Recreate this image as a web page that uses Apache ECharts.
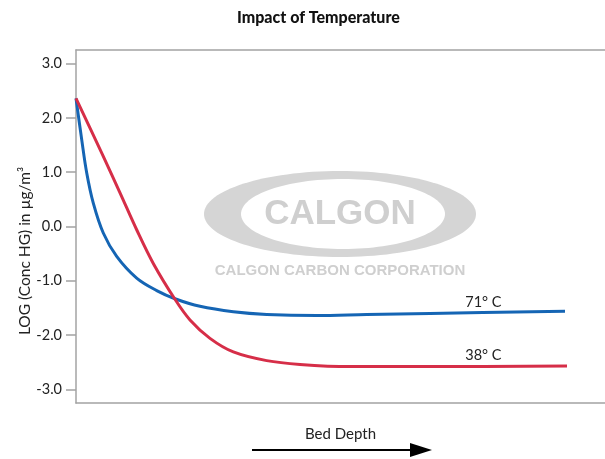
<!DOCTYPE html>
<html>
<head>
<meta charset="utf-8">
<script src="https://cdn.jsdelivr.net/npm/echarts@6/dist/echarts.min.js"></script>
<style>
html,body{margin:0;padding:0;background:#fff;}
#myCanvas{width:605px;height:459px;}
</style>
</head>
<body>
<div id="myCanvas"></div>
<script>
// values (bed depth in % of axis, LOG conc)
var depth71 = [0, 1.08, 2.02, 3.27, 5.16, 7.69, 11.47, 15.26, 18.71, 23.44, 29.74, 36.05, 45.5, 54.95, 66.92, 92.44]
var log71 = [2.36, 1.60, 0.99, 0.43, -0.12, -0.55, -0.95, -1.18, -1.33, -1.47, -1.57, -1.62, -1.64, -1.62, -1.60, -1.56]
var depth38 = [0, 5.16, 8.32, 11.47, 14.61, 18.71, 21.55, 25.33, 29.74, 36.05, 42.34, 51.8, 66.92, 92.82]
var log38 = [2.36, 1.29, 0.62, -0.06, -0.68, -1.34, -1.72, -2.06, -2.31, -2.47, -2.54, -2.58, -2.58, -2.57]
var yTicks = [-3, -2, -1, 0, 1, 2, 3]
var seriesNames = ['71° C', '38° C']
var labelAt = [[77, -1.60], [77, -2.58]]

var pairs = function(xs, ys){
    var out = []
    for (var i = 0; i < xs.length; i++) out.push([xs[i], ys[i]])
    return out
}

var font = 'Lato, "Open Sans", sans-serif'
var axisGrey = '#a3a3a3'

var myChart = echarts.init(document.getElementById('myCanvas'));
var option = {
    animation: false,
    title: {
        text: 'Impact of Temperature',
        left: 232,
        top: 5,
        textStyle: {fontFamily: font, fontWeight: 900, fontSize: 16, color: '#111'}
    },
    grid: {left: 76, right: 0, top: 50, bottom: 56},
    xAxis: [{
        type: 'value',
        min: 0,
        max: 100,
        name: 'Bed Depth',
        nameLocation: 'middle',
        nameGap: 24,
        nameTextStyle: {fontFamily: font, fontSize: 15, color: '#222'},
        axisLine: {onZero: false, lineStyle: {color: axisGrey, width: 1.5}},
        axisTick: {show: false},
        axisLabel: {show: false},
        splitLine: {show: false}
    }, {
        type: 'value',
        position: 'top',
        min: 0,
        max: 100,
        axisLine: {show: true, onZero: false, lineStyle: {color: axisGrey, width: 1.5}},
        axisTick: {show: false},
        axisLabel: {show: false},
        splitLine: {show: false}
    }],
    yAxis: {
        type: 'value',
        min: -3.25,
        max: 3.25,
        axisLine: {show: true, lineStyle: {color: axisGrey, width: 1.5}},
        axisTick: {show: true, length: 10, customValues: yTicks, lineStyle: {color: axisGrey, width: 1.5}},
        axisLabel: {
            customValues: yTicks,
            margin: 14,
            fontFamily: font,
            fontSize: 14.5,
            color: '#222',
            formatter: function(v){ return v.toFixed(1) }
        },
        splitLine: {show: false}
    },
    graphic: [
        // watermark logo
        {type: 'ellipse', z: 0, shape: {cx: 340, cy: 214, rx: 136, ry: 43}, style: {fill: '#d5d5d5'}},
        {type: 'ellipse', z: 0, shape: {cx: 343, cy: 214, rx: 102, ry: 35}, style: {fill: '#fff'}},
        {type: 'text', z: 0, x: 340, y: 214, style: {text: 'CALGON', fill: '#cfcfcf', font: 'bold 35px "Liberation Sans", Arial, sans-serif', textAlign: 'center', textVerticalAlign: 'middle'}},
        {type: 'text', z: 0, x: 340, y: 271, style: {text: 'CALGON CARBON CORPORATION', fill: '#cfcfcf', font: 'bold 15px "Liberation Sans", Arial, sans-serif', textAlign: 'center', textVerticalAlign: 'middle'}},
        // y axis title
        {type: 'text', x: 25, y: 251, rotation: Math.PI / 2, style: {text: 'LOG (Conc HG) in µg/m³', fill: '#222', font: '15.5px ' + font, textAlign: 'center', textVerticalAlign: 'middle'}},
        // bed depth arrow
        {type: 'line', shape: {x1: 252, y1: 450, x2: 414, y2: 450}, style: {stroke: '#000', lineWidth: 2}},
        {type: 'polygon', shape: {points: [[410, 443], [432, 450], [410, 457]]}, style: {fill: '#000'}}
    ],
    series: [{
        name: seriesNames[0],
        type: 'line',
        smooth: 0.35,
        showSymbol: false,
        z: 3,
        color: '#1565b4',
        lineStyle: {width: 3},
        data: pairs(depth71, log71),
        markPoint: {
            symbolSize: 0,
            label: {show: true, position: 'top', distance: 4, formatter: seriesNames[0], fontFamily: font, fontSize: 14.5, color: '#222'},
            data: [{coord: labelAt[0]}]
        }
    }, {
        name: seriesNames[1],
        type: 'line',
        smooth: 0.35,
        showSymbol: false,
        z: 3,
        color: '#d62e48',
        lineStyle: {width: 3},
        data: pairs(depth38, log38),
        markPoint: {
            symbolSize: 0,
            label: {show: true, position: 'top', distance: 4, formatter: seriesNames[1], fontFamily: font, fontSize: 14.5, color: '#222'},
            data: [{coord: labelAt[1]}]
        }
    }]
};

myChart.setOption(option);
</script>
</body>
</html>
